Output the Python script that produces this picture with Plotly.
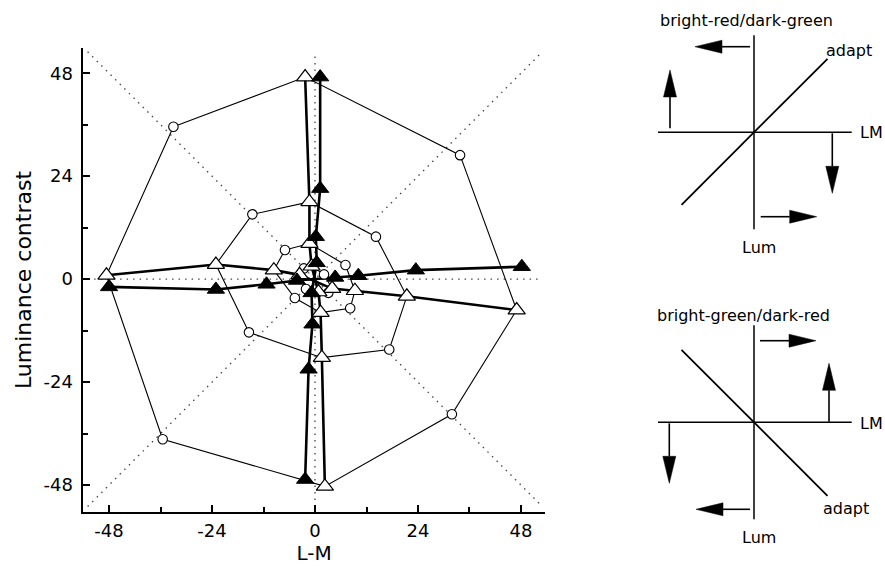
import plotly.graph_objects as go

# ---------------- data ----------------
contrast_levels = [48, 24, 12, 6]
# diagonal probes (open circles), per level: top-left, top-right, bottom-right, bottom-left
circle_lm = [[-33.0, 33.8, 31.9, -35.5], [-14.6, 14.2, 17.3, -15.4],
             [-7.0, 7.1, 8.2, -4.7], [-2.6, 2.1, 3.1, -2.1]]
circle_lum = [[35.5, 28.9, -31.5, -37.3], [15.1, 9.9, -16.4, -12.4],
              [6.8, 3.3, -6.8, -4.4], [2.5, 1.1, -3.2, -2.3]]
# cardinal probes, open triangles, per level: top, right, bottom, left
open_lm = [[-2.3, 47.0, 2.3, -48.6], [-1.3, 21.4, 1.6, -23.1],
           [-1.3, 9.3, 1.3, -9.6], [-0.8, 4.0, 0.8, -3.6]]
open_lum = [[47.1, -7.2, -48.3, 0.9], [18.0, -4.0, -18.3, 3.4],
            [8.3, -2.7, -7.8, 2.1], [3.0, -2.2, -3.0, 1.0]]
# cardinal probes, filled triangles, per level: top, right, bottom, left
filled_lm = [[1.2, 48.2, -2.3, -48.0], [1.2, 23.5, -1.5, -23.1],
             [0.2, 10.1, -0.6, -11.3], [0.4, 4.7, -0.8, -4.2]]
filled_lum = [[47.1, 2.9, -46.7, -1.8], [21.1, 2.1, -21.0, -2.4],
              [9.9, 0.8, -10.5, -1.2], [3.8, 0.4, -3.2, -0.3]]

tick_vals = [-48, -24, 0, 24, 48]
tick_text = ["-48", "-24", "0", "24", "48"]
minor_vals = [-36, -12, 12, 36]
ref_extent = 53

FONT = "DejaVu Sans"
fig = go.Figure()

# dotted reference directions
ref_dirs = [(1, 0), (0, 1), (1, 1), (1, -1)]
for dx, dy in ref_dirs:
    fig.add_trace(go.Scatter(
        x=[-ref_extent * dx, ref_extent * dx], y=[-ref_extent * dy, ref_extent * dy],
        mode="lines", line=dict(color="#444", width=1.3, dash="1.5px,5px"),
        hoverinfo="skip"))

# thin iso-contrast rings
for i in range(len(contrast_levels)):
    xs, ys = [], []
    for k in range(4):
        xs += [circle_lm[i][k], open_lm[i][k]]
        ys += [circle_lum[i][k], open_lum[i][k]]
    xs.append(xs[0]); ys.append(ys[0])
    fig.add_trace(go.Scatter(x=xs, y=ys, mode="lines",
                             line=dict(color="black", width=1.1)))

n = len(contrast_levels)
order_out = list(range(n))
order_in = list(reversed(range(n)))
for lmv, lumv in [(open_lm, open_lum), (filled_lm, filled_lum)]:
    # vertical thick line: top arm then bottom arm
    fig.add_trace(go.Scatter(
        x=[lmv[i][0] for i in order_out] + [lmv[i][2] for i in order_in],
        y=[lumv[i][0] for i in order_out] + [lumv[i][2] for i in order_in],
        mode="lines", line=dict(color="black", width=2.6)))
    # horizontal thick line: left arm then right arm
    fig.add_trace(go.Scatter(
        x=[lmv[i][3] for i in order_out] + [lmv[i][1] for i in order_in],
        y=[lumv[i][3] for i in order_out] + [lumv[i][1] for i in order_in],
        mode="lines", line=dict(color="black", width=2.6)))

def flat(a):
    return [v for row in a for v in row]

fig.add_trace(go.Scatter(x=flat(circle_lm), y=flat(circle_lum), mode="markers",
                         marker=dict(symbol="circle", size=9.5, color="white",
                                     line=dict(color="black", width=1.1))))
fig.add_trace(go.Scatter(x=flat(open_lm), y=flat(open_lum), mode="markers",
                         marker=dict(symbol="triangle-up", size=15, color="white",
                                     line=dict(color="black", width=1.2))))
fig.add_trace(go.Scatter(x=flat(filled_lm), y=flat(filled_lum), mode="markers",
                         marker=dict(symbol="triangle-up", size=15, color="black",
                                     line=dict(color="black", width=1))))

W, H = 885, 577
axis_common = dict(
    tickvals=tick_vals, ticktext=tick_text, ticks="inside", ticklen=7, tickwidth=1.5,
    tickcolor="black", showline=True, linewidth=1.5, linecolor="black",
    showgrid=False, zeroline=False, mirror=False,
    tickfont=dict(family=FONT, size=18, color="black"),
    minor=dict(tickvals=minor_vals, ticks="inside", ticklen=5, tickwidth=1.5,
               tickcolor="black", showgrid=False),
    fixedrange=True,
)
fig.update_layout(
    width=W, height=H, template="none",
    margin=dict(l=0, r=0, t=0, b=0),
    paper_bgcolor="white", plot_bgcolor="rgba(0,0,0,0)", showlegend=False,
    xaxis=dict(domain=[83.3 / W, 545 / W], range=[-54.0, 53.6],
               title=dict(text="L-M", font=dict(family=FONT, size=20, color="black"),
                          standoff=1),
               ticklabelstandoff=2, **axis_common),
    yaxis=dict(domain=[1 - 511.7 / H, 1 - 48.3 / H], range=[-54.2, 53.8],
               title=dict(text="Luminance contrast",
                          font=dict(family=FONT, size=22, color="black"), standoff=6),
               ticklabelstandoff=5, **axis_common),
    xaxis2=dict(domain=[640 / W, 1], range=[-114, 131], visible=False,
                anchor="y2", fixedrange=True),
    yaxis2=dict(domain=[0, 1], range=[132.3 - H, 132.3], visible=False,
                anchor="x2", fixedrange=True),
)

# ---------------- schematic diagrams (right side) ----------------
diagram_offsets = [0, -290]
diagram_titles = ["bright-red/dark-green", "bright-green/dark-red"]
diag_slopes = [1, -1]
# arrows (start x, start y, tip x, tip y) in diagram-local pixels
diagram_arrows = [
    [(-4, 85.6, -59, 85.6), (-84, 4, -84, 62.3), (78.3, -1, 78.3, -61), (6.7, -84.4, 62.7, -84.4)],
    [(6, 81.6, 62, 81.6), (75, 0.6, 75, 59), (-84.7, -1, -84.7, -61), (-4, -87, -58, -87)],
]
adapt_pos = [(95, 82), (92, -86)]
title_pos = [(-8, 112), (-11, 107)]

shapes = []
annotations = []
for d, off in enumerate(diagram_offsets):
    s = diag_slopes[d]
    lines = [(0, 97, 0, -97), (-96, 0, 97.7, 0), (-72.5, -72.5 * s, 73.5, 73.5 * s)]
    for (x0, y0, x1, y1), w in zip(lines, [1.5, 1.5, 1.8]):
        shapes.append(dict(type="line", xref="x2", yref="y2", x0=x0, y0=y0 + off,
                           x1=x1, y1=y1 + off, line=dict(color="black", width=w)))
    for (x0, y0, x1, y1) in diagram_arrows[d]:
        L = ((x1 - x0) ** 2 + (y1 - y0) ** 2) ** 0.5
        ux, uy = (x1 - x0) / L, (y1 - y0) / L
        hl, hw = 27, 6.5
        bx, by = x1 - ux * hl, y1 - uy * hl
        shapes.append(dict(type="line", xref="x2", yref="y2", x0=x0, y0=y0 + off,
                           x1=bx, y1=by + off, line=dict(color="black", width=1.6)))
        path = "M {:.1f},{:.1f} L {:.1f},{:.1f} L {:.1f},{:.1f} Z".format(
            x1, y1 + off, bx - uy * hw, by + ux * hw + off, bx + uy * hw, by - ux * hw + off)
        shapes.append(dict(type="path", xref="x2", yref="y2", path=path,
                           fillcolor="black", line=dict(color="black", width=0.5)))
    tf = dict(family=FONT, size=16, color="black")
    annotations += [
        dict(x=title_pos[d][0], y=title_pos[d][1] + off, text=diagram_titles[d],
             xref="x2", yref="y2", showarrow=False, font=tf),
        dict(x=adapt_pos[d][0], y=adapt_pos[d][1] + off, text="adapt",
             xref="x2", yref="y2", showarrow=False, font=tf),
        dict(x=104, y=-1.5 * (d) + off, text="LM", xref="x2", yref="y2",
             showarrow=False, xanchor="left", font=tf),
        dict(x=5, y=-115 + off, text="Lum", xref="x2", yref="y2",
             showarrow=False, font=tf),
    ]
fig.update_layout(shapes=shapes, annotations=annotations)

fig.write_html("out.html")
